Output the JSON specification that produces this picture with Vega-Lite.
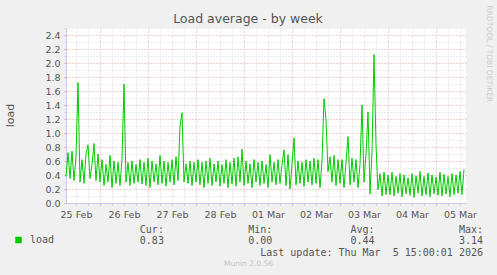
{
  "$schema": "https://vega.github.io/schema/vega-lite/v6.json",
  "width": 400,
  "height": 175,
  "autosize": {"type": "none"},
  "padding": {"left": 66, "top": 28, "right": 31, "bottom": 72},
  "background": "#f0f0f0",
  "title": {"text": "Load average - by week", "anchor": "middle", "frame": "group", "dx": -18, "offset": -30, "baseline": "alphabetic", "font": "DejaVu Sans", "fontSize": 12.5, "fontWeight": "normal", "color": "#555555"},
  "config": {
    "view": {"fill": "#ffffff", "stroke": null},
    "axis": {"labelFont": "DejaVu Sans", "labelFontSize": 9.5, "labelColor": "#555555"}
  },
  "data": {"values": [
    {"t":"2026-02-25T07:00","v":0.38},{"t":"2026-02-25T08:00","v":0.72},{"t":"2026-02-25T09:00","v":0.35},{"t":"2026-02-25T10:00","v":0.74},{"t":"2026-02-25T11:00","v":0.32},{"t":"2026-02-25T12:00","v":0.66},{"t":"2026-02-25T13:00","v":1.72},{"t":"2026-02-25T14:00","v":0.30},{"t":"2026-02-25T15:00","v":0.62},{"t":"2026-02-25T16:00","v":0.28},{"t":"2026-02-25T17:00","v":0.70},{"t":"2026-02-25T18:00","v":0.83},{"t":"2026-02-25T19:00","v":0.35},{"t":"2026-02-25T20:00","v":0.55},{"t":"2026-02-25T21:00","v":0.85},{"t":"2026-02-25T22:00","v":0.32},{"t":"2026-02-25T23:00","v":0.70},
    {"t":"2026-02-26T00:00","v":0.30},{"t":"2026-02-26T01:00","v":0.62},{"t":"2026-02-26T02:00","v":0.25},{"t":"2026-02-26T03:00","v":0.55},{"t":"2026-02-26T04:00","v":0.30},{"t":"2026-02-26T05:00","v":0.68},{"t":"2026-02-26T06:00","v":0.22},{"t":"2026-02-26T07:00","v":0.60},{"t":"2026-02-26T08:00","v":0.28},{"t":"2026-02-26T09:00","v":0.58},{"t":"2026-02-26T10:00","v":0.25},{"t":"2026-02-26T11:00","v":0.62},{"t":"2026-02-26T12:00","v":1.70},{"t":"2026-02-26T13:00","v":0.30},{"t":"2026-02-26T14:00","v":0.58},{"t":"2026-02-26T15:00","v":0.25},{"t":"2026-02-26T16:00","v":0.60},{"t":"2026-02-26T17:00","v":0.28},{"t":"2026-02-26T18:00","v":0.55},{"t":"2026-02-26T19:00","v":0.30},{"t":"2026-02-26T20:00","v":0.62},{"t":"2026-02-26T21:00","v":0.27},{"t":"2026-02-26T22:00","v":0.58},{"t":"2026-02-26T23:00","v":0.25},
    {"t":"2026-02-27T00:00","v":0.64},{"t":"2026-02-27T01:00","v":0.22},{"t":"2026-02-27T02:00","v":0.60},{"t":"2026-02-27T03:00","v":0.30},{"t":"2026-02-27T04:00","v":0.56},{"t":"2026-02-27T05:00","v":0.26},{"t":"2026-02-27T06:00","v":0.68},{"t":"2026-02-27T07:00","v":0.28},{"t":"2026-02-27T08:00","v":0.60},{"t":"2026-02-27T09:00","v":0.24},{"t":"2026-02-27T10:00","v":0.58},{"t":"2026-02-27T11:00","v":0.30},{"t":"2026-02-27T12:00","v":0.62},{"t":"2026-02-27T13:00","v":0.26},{"t":"2026-02-27T14:00","v":0.66},{"t":"2026-02-27T15:00","v":0.32},{"t":"2026-02-27T16:00","v":1.10},{"t":"2026-02-27T17:00","v":1.29},{"t":"2026-02-27T18:00","v":0.30},{"t":"2026-02-27T19:00","v":0.56},{"t":"2026-02-27T20:00","v":0.28},{"t":"2026-02-27T21:00","v":0.60},{"t":"2026-02-27T22:00","v":0.25},{"t":"2026-02-27T23:00","v":0.58},
    {"t":"2026-02-28T00:00","v":0.30},{"t":"2026-02-28T01:00","v":0.62},{"t":"2026-02-28T02:00","v":0.26},{"t":"2026-02-28T03:00","v":0.58},{"t":"2026-02-28T04:00","v":0.22},{"t":"2026-02-28T05:00","v":0.60},{"t":"2026-02-28T06:00","v":0.28},{"t":"2026-02-28T07:00","v":0.64},{"t":"2026-02-28T08:00","v":0.25},{"t":"2026-02-28T09:00","v":0.56},{"t":"2026-02-28T10:00","v":0.30},{"t":"2026-02-28T11:00","v":0.60},{"t":"2026-02-28T12:00","v":0.24},{"t":"2026-02-28T13:00","v":0.55},{"t":"2026-02-28T14:00","v":0.28},{"t":"2026-02-28T15:00","v":0.62},{"t":"2026-02-28T16:00","v":0.22},{"t":"2026-02-28T17:00","v":0.58},{"t":"2026-02-28T18:00","v":0.27},{"t":"2026-02-28T19:00","v":0.64},{"t":"2026-02-28T20:00","v":0.24},{"t":"2026-02-28T21:00","v":0.66},{"t":"2026-02-28T22:00","v":0.30},{"t":"2026-02-28T23:00","v":0.77},
    {"t":"2026-03-01T00:00","v":0.25},{"t":"2026-03-01T01:00","v":0.60},{"t":"2026-03-01T02:00","v":0.28},{"t":"2026-03-01T03:00","v":0.56},{"t":"2026-03-01T04:00","v":0.22},{"t":"2026-03-01T05:00","v":0.62},{"t":"2026-03-01T06:00","v":0.30},{"t":"2026-03-01T07:00","v":0.58},{"t":"2026-03-01T08:00","v":0.25},{"t":"2026-03-01T09:00","v":0.60},{"t":"2026-03-01T10:00","v":0.28},{"t":"2026-03-01T11:00","v":0.55},{"t":"2026-03-01T12:00","v":0.22},{"t":"2026-03-01T13:00","v":0.69},{"t":"2026-03-01T14:00","v":0.30},{"t":"2026-03-01T15:00","v":0.58},{"t":"2026-03-01T16:00","v":0.26},{"t":"2026-03-01T17:00","v":0.62},{"t":"2026-03-01T18:00","v":0.28},{"t":"2026-03-01T19:00","v":0.55},{"t":"2026-03-01T20:00","v":0.76},{"t":"2026-03-01T21:00","v":0.25},{"t":"2026-03-01T22:00","v":0.69},{"t":"2026-03-01T23:00","v":0.20},
    {"t":"2026-03-02T00:00","v":0.55},{"t":"2026-03-02T01:00","v":0.93},{"t":"2026-03-02T02:00","v":0.26},{"t":"2026-03-02T03:00","v":0.60},{"t":"2026-03-02T04:00","v":0.28},{"t":"2026-03-02T05:00","v":0.58},{"t":"2026-03-02T06:00","v":0.24},{"t":"2026-03-02T07:00","v":0.62},{"t":"2026-03-02T08:00","v":0.30},{"t":"2026-03-02T09:00","v":0.60},{"t":"2026-03-02T10:00","v":0.26},{"t":"2026-03-02T11:00","v":0.64},{"t":"2026-03-02T12:00","v":0.28},{"t":"2026-03-02T13:00","v":0.62},{"t":"2026-03-02T14:00","v":0.22},{"t":"2026-03-02T15:00","v":0.60},{"t":"2026-03-02T16:00","v":1.49},{"t":"2026-03-02T17:00","v":1.19},{"t":"2026-03-02T18:00","v":0.45},{"t":"2026-03-02T19:00","v":0.66},{"t":"2026-03-02T20:00","v":0.30},{"t":"2026-03-02T21:00","v":0.68},{"t":"2026-03-02T22:00","v":0.25},{"t":"2026-03-02T23:00","v":0.62},
    {"t":"2026-03-03T00:00","v":0.28},{"t":"2026-03-03T01:00","v":0.62},{"t":"2026-03-03T02:00","v":0.22},{"t":"2026-03-03T03:00","v":0.58},{"t":"2026-03-03T04:00","v":0.95},{"t":"2026-03-03T05:00","v":0.26},{"t":"2026-03-03T06:00","v":0.64},{"t":"2026-03-03T07:00","v":0.30},{"t":"2026-03-03T08:00","v":0.62},{"t":"2026-03-03T09:00","v":0.22},{"t":"2026-03-03T10:00","v":0.55},{"t":"2026-03-03T11:00","v":1.40},{"t":"2026-03-03T12:00","v":0.30},{"t":"2026-03-03T13:00","v":0.70},{"t":"2026-03-03T14:00","v":1.30},{"t":"2026-03-03T15:00","v":0.13},{"t":"2026-03-03T16:00","v":0.74},{"t":"2026-03-03T17:00","v":2.12},{"t":"2026-03-03T18:00","v":0.83},{"t":"2026-03-03T19:00","v":0.19},{"t":"2026-03-03T20:00","v":0.42},{"t":"2026-03-03T21:00","v":0.10},{"t":"2026-03-03T22:00","v":0.44},{"t":"2026-03-03T23:00","v":0.12},
    {"t":"2026-03-04T00:00","v":0.40},{"t":"2026-03-04T01:00","v":0.12},{"t":"2026-03-04T02:00","v":0.44},{"t":"2026-03-04T03:00","v":0.10},{"t":"2026-03-04T04:00","v":0.38},{"t":"2026-03-04T05:00","v":0.14},{"t":"2026-03-04T06:00","v":0.42},{"t":"2026-03-04T07:00","v":0.09},{"t":"2026-03-04T08:00","v":0.40},{"t":"2026-03-04T09:00","v":0.13},{"t":"2026-03-04T10:00","v":0.36},{"t":"2026-03-04T11:00","v":0.11},{"t":"2026-03-04T12:00","v":0.42},{"t":"2026-03-04T13:00","v":0.08},{"t":"2026-03-04T14:00","v":0.39},{"t":"2026-03-04T15:00","v":0.14},{"t":"2026-03-04T16:00","v":0.45},{"t":"2026-03-04T17:00","v":0.10},{"t":"2026-03-04T18:00","v":0.38},{"t":"2026-03-04T19:00","v":0.12},{"t":"2026-03-04T20:00","v":0.43},{"t":"2026-03-04T21:00","v":0.09},{"t":"2026-03-04T22:00","v":0.40},{"t":"2026-03-04T23:00","v":0.13},
    {"t":"2026-03-05T00:00","v":0.37},{"t":"2026-03-05T01:00","v":0.11},{"t":"2026-03-05T02:00","v":0.44},{"t":"2026-03-05T03:00","v":0.10},{"t":"2026-03-05T04:00","v":0.41},{"t":"2026-03-05T05:00","v":0.13},{"t":"2026-03-05T06:00","v":0.38},{"t":"2026-03-05T07:00","v":0.09},{"t":"2026-03-05T08:00","v":0.42},{"t":"2026-03-05T09:00","v":0.12},{"t":"2026-03-05T10:00","v":0.40},{"t":"2026-03-05T11:00","v":0.14},{"t":"2026-03-05T12:00","v":0.45},{"t":"2026-03-05T13:00","v":0.12},{"t":"2026-03-05T14:00","v":0.48}
  ]},
  "layer": [
    {
      "mark": {"type": "point", "opacity": 0},
      "encoding": {
        "x": {"field": "t", "type": "temporal",
          "scale": {"domain": [{"year": 2026, "month": "feb", "date": 25, "hours": 7}, {"year": 2026, "month": "mar", "date": 5, "hours": 15}]},
          "axis": {"orient": "bottom",
            "values": [
              {"year": 2026, "month": "feb", "date": 25, "hours": 12}, {"year": 2026, "month": "feb", "date": 25, "hours": 18},
              {"year": 2026, "month": "feb", "date": 26, "hours": 6}, {"year": 2026, "month": "feb", "date": 26, "hours": 12}, {"year": 2026, "month": "feb", "date": 26, "hours": 18},
              {"year": 2026, "month": "feb", "date": 27, "hours": 6}, {"year": 2026, "month": "feb", "date": 27, "hours": 12}, {"year": 2026, "month": "feb", "date": 27, "hours": 18},
              {"year": 2026, "month": "feb", "date": 28, "hours": 6}, {"year": 2026, "month": "feb", "date": 28, "hours": 12}, {"year": 2026, "month": "feb", "date": 28, "hours": 18},
              {"year": 2026, "month": "mar", "date": 1, "hours": 6}, {"year": 2026, "month": "mar", "date": 1, "hours": 12}, {"year": 2026, "month": "mar", "date": 1, "hours": 18},
              {"year": 2026, "month": "mar", "date": 2, "hours": 6}, {"year": 2026, "month": "mar", "date": 2, "hours": 12}, {"year": 2026, "month": "mar", "date": 2, "hours": 18},
              {"year": 2026, "month": "mar", "date": 3, "hours": 6}, {"year": 2026, "month": "mar", "date": 3, "hours": 12}, {"year": 2026, "month": "mar", "date": 3, "hours": 18},
              {"year": 2026, "month": "mar", "date": 4, "hours": 6}, {"year": 2026, "month": "mar", "date": 4, "hours": 12}, {"year": 2026, "month": "mar", "date": 4, "hours": 18},
              {"year": 2026, "month": "mar", "date": 5, "hours": 6}, {"year": 2026, "month": "mar", "date": 5, "hours": 12}
            ],
            "labels": false, "domain": false, "ticks": true, "tickColor": "#cccccc", "tickSize": 2,
            "grid": true, "gridColor": "#d8d8d8", "gridDash": [1, 2], "gridWidth": 1,
            "title": "Munin 2.0.56", "titleFont": "DejaVu Sans", "titleFontSize": 7.5, "titleFontWeight": "normal", "titleColor": "#c4c4c4",
            "titleX": 182, "titleY": 60, "titleAlign": "center", "titleBaseline": "middle", "titleAngle": 0}
        },
        "y": {"field": "v", "type": "quantitative",
          "scale": {"domain": [0, 2.5], "nice": false, "zero": true},
          "axis": {"orient": "left",
            "values": [0.1, 0.3, 0.5, 0.7, 0.9, 1.1, 1.3, 1.5, 1.7, 1.9, 2.1, 2.3, 2.5],
            "labels": false, "domain": true, "domainColor": "#c8c8f0", "ticks": true, "tickColor": "#d8d8d8", "tickSize": 2,
            "grid": true, "gridColor": "#d8d8d8", "gridDash": [1, 2], "gridWidth": 1,
            "title": "load", "titleFont": "DejaVu Sans", "titleFontSize": 11, "titleFontWeight": "normal", "titleColor": "#555555",
            "titleX": -56, "titleY": 87, "titleAlign": "center", "titleBaseline": "middle", "titleAngle": -90}
        }
      }
    },
    {
      "mark": {"type": "point", "opacity": 0},
      "encoding": {
        "x": {"field": "t", "type": "temporal",
          "axis": {"orient": "bottom",
            "values": [
              {"year": 2026, "month": "feb", "date": 26, "hours": 0}, {"year": 2026, "month": "feb", "date": 27, "hours": 0},
              {"year": 2026, "month": "feb", "date": 28, "hours": 0}, {"year": 2026, "month": "mar", "date": 1, "hours": 0},
              {"year": 2026, "month": "mar", "date": 2, "hours": 0}, {"year": 2026, "month": "mar", "date": 3, "hours": 0},
              {"year": 2026, "month": "mar", "date": 4, "hours": 0}, {"year": 2026, "month": "mar", "date": 5, "hours": 0}
            ],
            "labels": false, "domain": false, "ticks": true, "tickColor": "#e9a0a0", "tickSize": 2,
            "grid": true, "gridColor": "#e9a0a0", "gridDash": [1, 2], "gridWidth": 1,
            "title": [
              "Cur:\u00a0\u00a0\u00a0\u00a0\u00a0\u00a0\u00a0\u00a0\u00a0\u00a0\u00a0\u00a0\u00a0\u00a0Min:\u00a0\u00a0\u00a0\u00a0\u00a0\u00a0\u00a0\u00a0\u00a0\u00a0\u00a0\u00a0\u00a0Avg:\u00a0\u00a0\u00a0\u00a0\u00a0\u00a0\u00a0\u00a0\u00a0\u00a0\u00a0\u00a0\u00a0\u00a0Max:\u00a0\u00a0",
              "0.83\u00a0\u00a0\u00a0\u00a0\u00a0\u00a0\u00a0\u00a0\u00a0\u00a0\u00a0\u00a0\u00a0\u00a00.00\u00a0\u00a0\u00a0\u00a0\u00a0\u00a0\u00a0\u00a0\u00a0\u00a0\u00a0\u00a0\u00a00.44\u00a0\u00a0\u00a0\u00a0\u00a0\u00a0\u00a0\u00a0\u00a0\u00a0\u00a0\u00a0\u00a0\u00a03.14",
              "Last\u00a0update:\u00a0Thu\u00a0Mar\u00a0\u00a05\u00a015:00:01\u00a02026"
            ],
            "titleFont": "DejaVu Sans Mono", "titleFontSize": 10, "titleFontWeight": "normal", "titleColor": "#555555",
            "titleX": 416.5, "titleY": 21, "titleAlign": "right", "titleBaseline": "top", "titleLineHeight": 11.8, "titleAngle": 0}
        },
        "y": {"field": "v", "type": "quantitative",
          "axis": {"orient": "left",
            "values": [0, 0.2, 0.4, 0.6, 0.8, 1.0, 1.2, 1.4, 1.6, 1.8, 2.0, 2.2, 2.4],
            "format": ".1f", "labels": true, "labelPadding": 4, "domain": false,
            "ticks": true, "tickColor": "#e9a0a0", "tickSize": 2,
            "grid": true, "gridColor": {"condition": {"test": "datum.value === 0", "value": "transparent"}, "value": "#e9a0a0"},
            "gridDash": [1, 2], "gridWidth": 1, "title": null}
        }
      }
    },
    {
      "mark": {"type": "line", "strokeWidth": 1, "interpolate": "linear"},
      "encoding": {
        "x": {"field": "t", "type": "temporal",
          "axis": {"orient": "bottom",
            "values": [
              {"year": 2026, "month": "feb", "date": 25, "hours": 12}, {"year": 2026, "month": "feb", "date": 26, "hours": 12},
              {"year": 2026, "month": "feb", "date": 27, "hours": 12}, {"year": 2026, "month": "feb", "date": 28, "hours": 12},
              {"year": 2026, "month": "mar", "date": 1, "hours": 12}, {"year": 2026, "month": "mar", "date": 2, "hours": 12},
              {"year": 2026, "month": "mar", "date": 3, "hours": 12}, {"year": 2026, "month": "mar", "date": 4, "hours": 12},
              {"year": 2026, "month": "mar", "date": 5, "hours": 12}
            ],
            "format": "%d %b", "labels": true, "labelPadding": 6, "labelFlush": false, "labelOverlap": false,
            "ticks": false, "grid": false, "domain": true, "domainColor": "#c8c8f0", "title": null, "zindex": 1}
        },
        "y": {"field": "v", "type": "quantitative",
          "axis": {"orient": "right", "labels": false, "ticks": false, "grid": false, "domain": false,
            "title": "RRDTOOL / TOBI OETIKER", "titleFont": "DejaVu Sans", "titleFontSize": 7.5, "titleFontWeight": "normal", "titleColor": "#cccccc",
            "titleAngle": 90, "titleX": 22.5, "titleY": -23, "titleAlign": "left", "titleBaseline": "middle"}
        },
        "color": {"datum": "load", "type": "nominal",
          "scale": {"range": ["#00cc00"]},
          "legend": {"orient": "none", "legendX": -52.5, "legendY": 207, "title": null, "padding": 0,
            "symbolType": "square", "symbolSize": 36, "symbolFillColor": "#00cc00", "symbolStrokeColor": "#00cc00", "symbolStrokeWidth": 0.5, "symbolOpacity": 1,
            "labelFont": "DejaVu Sans Mono", "labelFontSize": 10, "labelColor": "#555555", "labelOffset": 6.5}
        }
      }
    }
  ],
  "resolve": {"axis": {"x": "independent", "y": "independent"}}
}
